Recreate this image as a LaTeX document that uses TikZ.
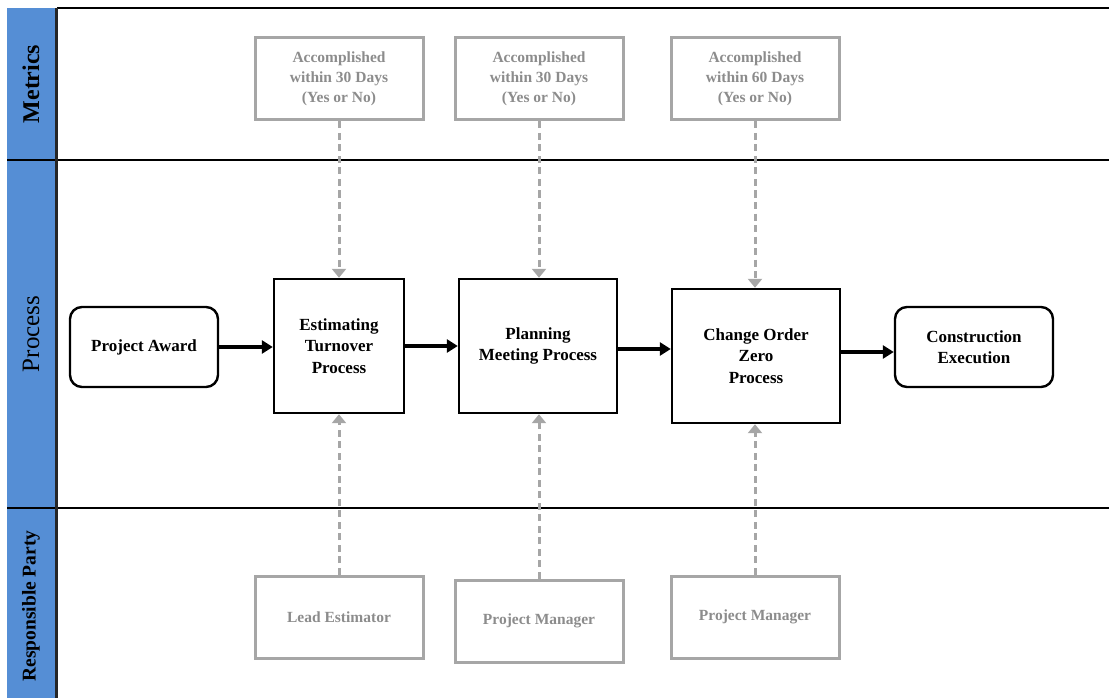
\documentclass[tikz,border=0pt]{standalone}
\usepackage{fontspec}
\setmainfont{Liberation Serif}
\usetikzlibrary{arrows.meta}
\definecolor{laneblue}{RGB}{85,142,213}
\definecolor{metgray}{RGB}{166,166,166}
\definecolor{txtgray}{RGB}{140,140,140}
\tikzset{
  procbox/.style={draw=black, line width=2.4pt, align=center, font=\fontsize{17}{21.5}\selectfont\bfseries, inner sep=0pt},
  termbox/.style={draw=black, line width=2.4pt, rounded corners=12pt, align=center, font=\fontsize{17}{21.5}\selectfont\bfseries, inner sep=0pt},
  graybox/.style={draw=metgray, line width=3pt, align=center, text=txtgray, font=\fontsize{15.5}{20}\selectfont\bfseries, inner sep=0pt, minimum width=168pt, minimum height=82pt},
  flow/.style={line width=3.4pt, -{Triangle[length=11pt,width=13pt]}},
  dep/.style={metgray, line width=3pt, dash pattern=on 7pt off 4.5pt, -{Triangle[length=9pt,width=14pt]}},
  lanetxt/.style={rotate=90}
}
\begin{document}
\begin{tikzpicture}[x=1pt,y=-1pt]
\useasboundingbox (0,0) rectangle (1109,698);
% lane strip
\fill[laneblue] (7,8) rectangle (56,698);
\draw[line width=1.2pt] (7,160) -- (1109,160);
\draw[line width=1.2pt] (7,508) -- (1109,508);
\draw[line width=1.2pt] (57,8) -- (1109,8);
\draw[line width=3.2pt, black!85] (56.5,8) -- (56.5,698);
\node[lanetxt, font=\fontsize{24}{28}\selectfont\bfseries] (lm) at (31,84) {Metrics};
\node[lanetxt, font=\fontsize{25}{28}\selectfont] (lp) at (31,334) {Process};
\node[lanetxt, font=\fontsize{19.5}{22}\selectfont\bfseries] (lr) at (31,606) {Responsible Party};

% process nodes
\node[termbox, minimum width=148pt, minimum height=80pt] (pa) at (144,347) {Project Award};
\node[procbox, minimum width=130pt, minimum height=134pt] (et) at (339,346) {Estimating\\Turnover\\Process};
\node[procbox, minimum width=158pt, minimum height=134pt] (pm) at (538,346) {Planning\\Meeting Process};
\node[procbox, minimum width=168pt, minimum height=134pt] (co) at (756,356) {Change Order\\Zero\\Process};
\node[termbox, minimum width=158pt, minimum height=80pt] (ce) at (974,347) {Construction\\Execution};

% metric boxes
\node[graybox] (m1) at (339,79) {Accomplished\\within 30 Days\\(Yes or No)};
\node[graybox] (m2) at (539,79) {Accomplished\\within 30 Days\\(Yes or No)};
\node[graybox] (m3) at (755,79) {Accomplished\\within 60 Days\\(Yes or No)};

% responsible boxes
\node[graybox] (r1) at (339,617) {Lead Estimator};
\node[graybox] (r2) at (539,621) {Project Manager};
\node[graybox] (r3) at (755,617) {Project Manager};

% flow arrows
\draw[flow] (pa.east) -- (pa.east -| et.west);
\draw[flow] (et.east) -- (et.east -| pm.west);
\draw[flow] ([yshift=-3pt]pm.east) -- ([yshift=-3pt]pm.east -| co.west);
\draw[flow] ([yshift=-5pt]ce.west -| co.east) -- ([yshift=-5pt]ce.west);

% dependency arrows
\draw[dep] (m1.south) -- (m1.south |- et.north);
\draw[dep] (m2.south) -- (m2.south |- pm.north);
\draw[dep] (m3.south) -- (m3.south |- co.north);
\draw[dep] (r1.north) -- (r1.north |- et.south);
\draw[dep] (r2.north) -- (r2.north |- pm.south);
\draw[dep] (r3.north) -- (r3.north |- co.south);
\end{tikzpicture}
\end{document}
